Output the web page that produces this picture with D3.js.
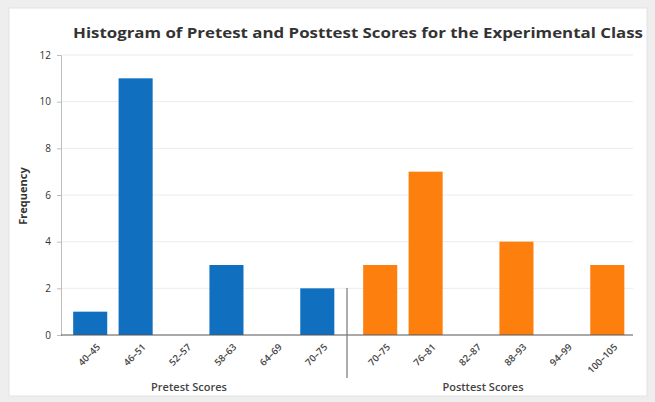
<!DOCTYPE html>
<html><head><meta charset="utf-8">
<script src="https://cdn.jsdelivr.net/npm/d3@7"></script>
<style>
html,body{margin:0;padding:0;background:#eeeeee;}
svg{display:block;}
</style></head>
<body>
<svg id="c" width="655" height="402"></svg>
<script>
const pretestBins = ["40–45","46–51","52–57","58–63","64–69","70–75"];
const pretestFreq = [1, 11, 0, 3, 0, 2];
const posttestBins = ["70–75","76–81","82–87","88–93","94–99","100–105"];
const posttestFreq = [3, 7, 0, 4, 0, 3];
const yTicks = [0, 2, 4, 6, 8, 10, 12];
const titleText = "Histogram of Pretest and Posttest Scores for the Experimental Class";

const svg = d3.select("#c");
const font = "'Open Sans', 'DejaVu Sans', sans-serif";

svg.append("rect").attr("x",9).attr("y",8).attr("width",638).attr("height",388)
  .attr("fill","#fff").attr("stroke","#e2e2e2");

const y = d3.scaleLinear().domain([0,12]).range([335,55]);
const xPre = d3.scaleBand().domain(pretestBins).range([67.5,340]).paddingInner(0.25).paddingOuter(0.125);
const xPost = d3.scaleBand().domain(posttestBins).range([357.5,630]).paddingInner(0.25).paddingOuter(0.125);

// gridlines
svg.append("g").selectAll("line").data(yTicks.filter(d=>d>0)).join("line")
  .attr("x1",62).attr("x2",633).attr("y1",d=>y(d)).attr("y2",d=>y(d))
  .attr("stroke","#ececec").attr("stroke-width",1);

// y axis
const ya = svg.append("g").attr("transform","translate(61,0)")
  .call(d3.axisLeft(y).tickValues(yTicks).tickSize(4).tickPadding(6));
ya.select(".domain").attr("stroke","#bdbdbd");
ya.selectAll(".tick line").attr("stroke","#bdbdbd");
ya.selectAll("text").attr("font-family",font).attr("font-size",10).attr("fill","#333");

// bars
svg.append("g").selectAll("rect").data(pretestBins.map((b,i)=>({b,v:pretestFreq[i]}))).join("rect")
  .attr("x",d=>xPre(d.b)).attr("width",xPre.bandwidth())
  .attr("y",d=>y(d.v)).attr("height",d=>y(0)-y(d.v)).attr("fill","#1070bf");
svg.append("g").selectAll("rect").data(posttestBins.map((b,i)=>({b,v:posttestFreq[i]}))).join("rect")
  .attr("x",d=>xPost(d.b)).attr("width",xPost.bandwidth())
  .attr("y",d=>y(d.v)).attr("height",d=>y(0)-y(d.v)).attr("fill","#fd7f0e");

// x axis line
svg.append("line").attr("x1",61).attr("x2",633).attr("y1",y(0)).attr("y2",y(0))
  .attr("stroke","#555").attr("stroke-width",1);

// divider
svg.append("line").attr("x1",347).attr("x2",347).attr("y1",288).attr("y2",378)
  .attr("stroke","#777").attr("stroke-width",1.2);

// x tick labels
function xLabels(scale, bins){
  svg.append("g").selectAll("text").data(bins).join("text")
    .attr("transform",d=>`translate(${scale(d)+scale.bandwidth()/2+6},${y(0)+8}) rotate(-45)`)
    .attr("text-anchor","end").attr("dy","0.7em")
    .attr("font-family",font).attr("font-size",9.5).attr("font-weight",600).attr("fill","#444").text(d=>d);
}
xLabels(xPre, pretestBins);
xLabels(xPost, posttestBins);

// axis titles
svg.append("text").attr("x",189).attr("y",391).attr("text-anchor","middle")
  .attr("font-family",font).attr("font-size",11).attr("font-weight",600).attr("fill","#444").text("Pretest Scores");
svg.append("text").attr("x",483).attr("y",391).attr("text-anchor","middle")
  .attr("font-family",font).attr("font-size",11).attr("font-weight",600).attr("fill","#444").text("Posttest Scores");
svg.append("text").attr("transform","translate(27,196) rotate(-90)").attr("text-anchor","middle")
  .attr("font-family",font).attr("font-size",11).attr("font-weight","bold").attr("fill","#333").text("Frequency");

// title
svg.append("text").attr("x",358).attr("y",38).attr("text-anchor","middle")
  .attr("font-family",font).attr("font-size",14).attr("font-weight","bold").attr("fill","#333")
  .attr("textLength",570).attr("lengthAdjust","spacingAndGlyphs").text(titleText);
</script>
</body></html>
